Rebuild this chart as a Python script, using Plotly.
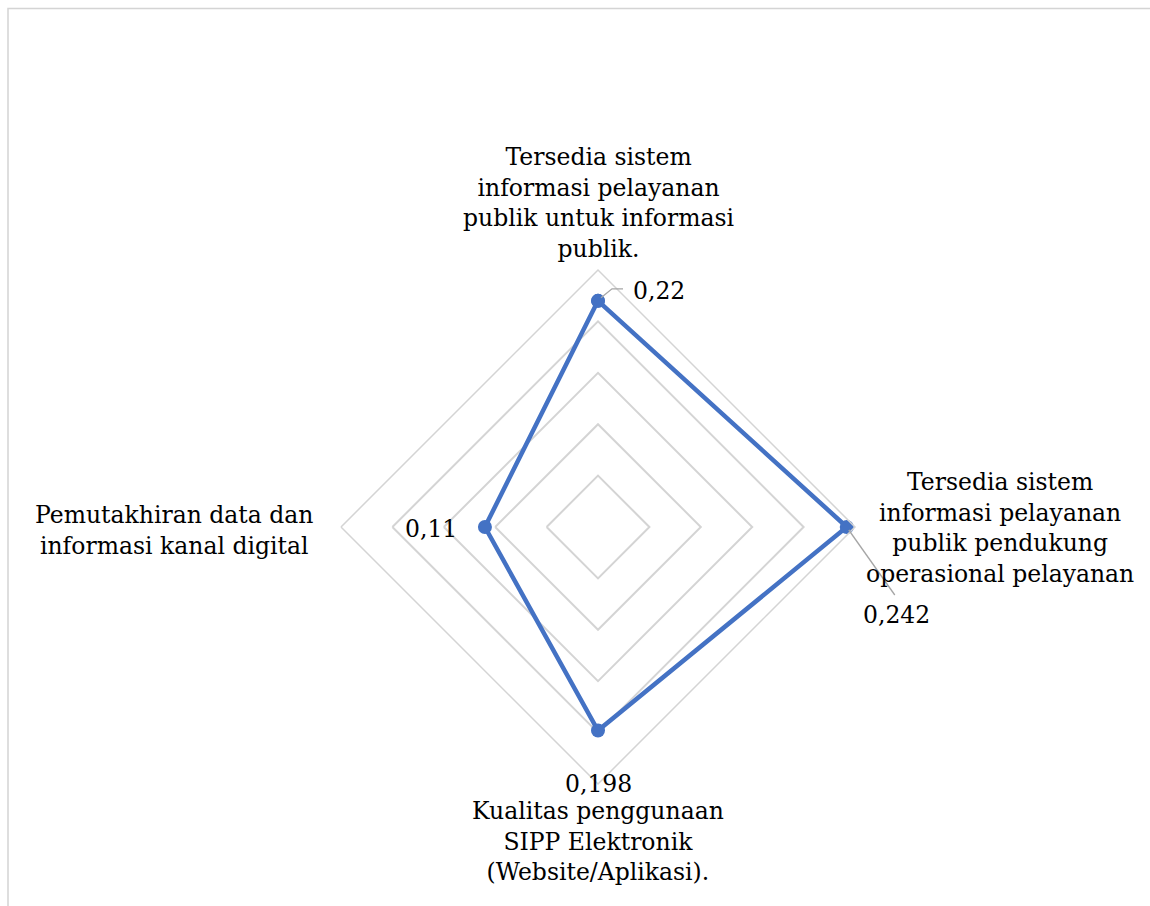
import math
import plotly.graph_objects as go

# Indicator names (drawn clockwise from the top) and their scores
categories = [
    "Tersedia sistem<br>informasi pelayanan<br>publik untuk informasi<br>publik.",
    "Tersedia sistem<br>informasi pelayanan<br>publik pendukung<br>operasional pelayanan",
    "Kualitas penggunaan<br>SIPP Elektronik<br>(Website/Aplikasi).",
    "Pemutakhiran data dan<br>informasi kanal digital",
]
values = [0.22, 0.242, 0.198, 0.11]
value_labels = ["0,22", "0,242", "0,198", "0,11"]

W, H = 1150, 906
R_MAX = 0.25
CX, CY, RAD = 598, 527, 257          # pixel centre / radius of the radar
FONT = "DejaVu Serif"
FSIZE = 23.5
BLUE = "#4472C4"
GRID = "#d4d4d4"
LEADER = "#a6a6a6"

keys = [f"c{i}" for i in range(len(categories))]

fig = go.Figure()
fig.add_trace(go.Scatterpolar(
    r=values + values[:1],
    theta=keys + keys[:1],
    mode="lines+markers",
    line=dict(color=BLUE, width=4.5),
    marker=dict(color=BLUE, size=14),
    hoverinfo="skip",
    showlegend=False,
))


def to_px(v, i):
    """Pixel position of value v on spoke i (clockwise from top)."""
    ang = math.radians(90 - 90 * i)
    rr = v / R_MAX * RAD
    return CX + rr * math.cos(ang), CY - rr * math.sin(ang)


def px2paper(x, y):
    return x / W, 1 - y / H


annotations = []
shapes = []

pts = [to_px(v, i) for i, v in enumerate(values)]

# top point: elbow leader to the right
x0, y0 = pts[0]
p_a = px2paper(x0 + 3, y0 - 3)
p_b = px2paper(x0 + 14, y0 - 12)
p_c = px2paper(x0 + 25, y0 - 12)
shapes.append(dict(type="path", xref="paper", yref="paper",
                   path=f"M {p_a[0]},{p_a[1]} L {p_b[0]},{p_b[1]} L {p_c[0]},{p_c[1]}",
                   line=dict(color=LEADER, width=1.3), layer="above"))
tx, ty = px2paper(x0 + 33, y0 - 10)
annotations.append(dict(x=tx, y=ty, xref="paper", yref="paper", text=value_labels[0],
                        showarrow=False, xanchor="left", yanchor="middle"))

# right point: diagonal leader down-right
x1, y1 = pts[1]
p_a = px2paper(x1 + 2, y1 + 3)
p_b = px2paper(x1 + 48, y1 + 68)
shapes.append(dict(type="line", xref="paper", yref="paper",
                   x0=p_a[0], y0=p_a[1], x1=p_b[0], y1=p_b[1],
                   line=dict(color=LEADER, width=1.3), layer="above"))
tx, ty = px2paper(x1 + 14, y1 + 88)
annotations.append(dict(x=tx, y=ty, xref="paper", yref="paper", text=value_labels[1],
                        showarrow=False, xanchor="left", yanchor="middle"))

# bottom point: label below the outer ring
x2, y2 = pts[2]
tx, ty = px2paper(x2, CY + RAD)
annotations.append(dict(x=tx, y=ty, xref="paper", yref="paper", text=value_labels[2],
                        showarrow=False, xanchor="center", yanchor="middle"))

# left point: label just to the left
x3, y3 = pts[3]
tx, ty = px2paper(x3 - 26, y3 + 2)
annotations.append(dict(x=tx, y=ty, xref="paper", yref="paper", text=value_labels[3],
                        showarrow=False, xanchor="right", yanchor="middle"))

# category labels around the chart
cat_pos = [(598, 203, "center"), (1000, 528, "center"),
           (598, 841, "center"), (174, 530, "center")]
for txt, (x, y, anc) in zip(categories, cat_pos):
    px, py = px2paper(x, y)
    annotations.append(dict(x=px, y=py, xref="paper", yref="paper", text=txt,
                            showarrow=False, xanchor=anc, yanchor="middle", align="center"))

# chart frame
shapes.append(dict(type="rect", xref="paper", yref="paper",
                   x0=8 / W, y0=-0.05, x1=1.05, y1=1 - 8.5 / H,
                   line=dict(color=GRID, width=1.5), layer="below"))

fig.update_layout(
    width=W, height=H,
    margin=dict(l=0, r=0, t=0, b=0),
    paper_bgcolor="white",
    font=dict(family=FONT, size=FSIZE, color="#000000"),
    annotations=annotations,
    shapes=shapes,
    polar=dict(
        domain=dict(x=[(CX - RAD) / W, (CX + RAD) / W],
                    y=[(H - CY - RAD) / H, (H - CY + RAD) / H]),
        bgcolor="white",
        gridshape="linear",
        radialaxis=dict(range=[0, R_MAX], dtick=0.05, showticklabels=False, ticks="",
                        showline=False, gridcolor=GRID, gridwidth=1.5),
        angularaxis=dict(categoryarray=keys, categoryorder="array", rotation=90,
                         direction="clockwise", showticklabels=False, ticks="",
                         showgrid=False, showline=True, linecolor=GRID, linewidth=1.5),
    ),
)

fig.write_html("out.html")
